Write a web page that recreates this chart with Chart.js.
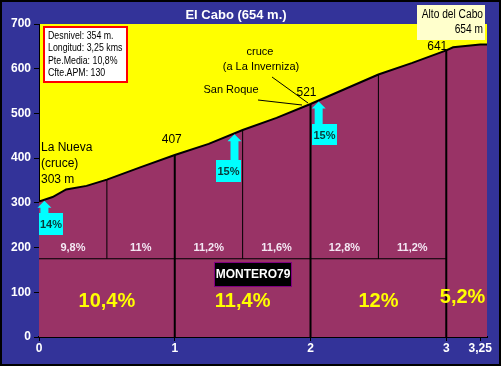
<!DOCTYPE html>
<html>
<head>
<meta charset="utf-8">
<script src="https://cdn.jsdelivr.net/npm/chart.js@4"></script>
<style>
html,body{margin:0;padding:0;background:#333399;}
#wrap{width:501px;height:366px;position:relative;}
</style>
</head>
<body>
<div id="wrap"><canvas id="c" width="501" height="366"></canvas></div>
<script>
// ---- data ----
const title = 'El Cabo (654 m.)';
const km   = [0, 0.1, 0.2, 0.35, 0.5, 0.75, 1, 1.25, 1.5, 1.75, 2, 2.25, 2.5, 2.75, 3, 3.05, 3.25, 3.3];
const elev = [303, 313, 330, 338, 352, 380, 407, 432, 463, 490, 521, 554, 587, 613, 641, 648, 654, 654];
const halfMarks = [0.5, 1.5, 2.5];
const kmMarks = [1, 2, 3];
const splitLevel = 175;
const halfGrades = ['9,8%', '11%', '11,2%', '11,6%', '12,8%', '11,2%'];
const halfCenters = [0.25, 0.75, 1.25, 1.75, 2.25, 2.75];
const kmGrades = ['10,4%', '11,4%', '12%', '5,2%'];
const kmCenters = [0.5, 1.5, 2.5, 3.12];
const xTicks = [0, 1, 2, 3, 3.25];
const xTickLabels = ['0', '1', '2', '3', '3,25'];
const maxGrades = ['14%', '15%', '15%'];
const maxGradeKm = [0.04, 1.44, 2.06];
const infoLines = ['Desnivel: 354 m.', 'Longitud: 3,25 kms', 'Pte.Media: 10,8%', 'Cfte.APM: 130'];

const elevAt = k => elev[km.indexOf(k)];

const datasets = [{
  data: km.map((k, i) => ({x: k, y: elev[i]})),
  borderColor: '#000', borderWidth: 2, backgroundColor: '#993366',
  fill: 'origin', pointRadius: 0, tension: 0, order: 10
}];
halfMarks.forEach(k => datasets.push({
  data: [{x: k, y: splitLevel}, {x: k, y: elevAt(k)}],
  borderColor: '#000', borderWidth: 1, pointRadius: 0, fill: false, order: 2
}));
kmMarks.forEach(k => datasets.push({
  data: [{x: k, y: 0}, {x: k, y: elevAt(k)}],
  borderColor: '#000', borderWidth: 2, pointRadius: 0, fill: false, order: 2
}));
datasets.push({
  data: [{x: 0, y: splitLevel}, {x: 3, y: splitLevel}],
  borderColor: '#000', borderWidth: 1, pointRadius: 0, fill: false, order: 2
});

const FONT = '"Liberation Sans", Arial, sans-serif';

const bgPlugin = {
  id: 'bg',
  beforeDraw(chart) {
    const ctx = chart.ctx, a = chart.chartArea;
    ctx.save();
    ctx.fillStyle = '#333399';
    ctx.fillRect(0, 0, chart.width, chart.height);
    ctx.fillStyle = '#ffff00';
    ctx.fillRect(a.left, a.top, a.right - a.left, a.bottom - a.top);
    ctx.restore();
  },
  afterDraw(chart) {
    const ctx = chart.ctx;
    ctx.save();
    ctx.strokeStyle = '#000'; ctx.lineWidth = 2;
    ctx.strokeRect(1, 1, chart.width - 2, chart.height - 2);
    ctx.restore();
  }
};

function arrow(ctx, x, tipY, baseY) {
  ctx.beginPath();
  ctx.moveTo(x, tipY);
  ctx.lineTo(x + 7, tipY + 7);
  ctx.lineTo(x + 4, tipY + 7);
  ctx.lineTo(x + 4, baseY);
  ctx.lineTo(x - 4, baseY);
  ctx.lineTo(x - 4, tipY + 7);
  ctx.lineTo(x - 7, tipY + 7);
  ctx.closePath();
  ctx.fill();
}

// draw text squeezed horizontally
function narrowText(ctx, text, x, y, sx, align) {
  ctx.save();
  ctx.translate(x, y);
  ctx.scale(sx, 1);
  ctx.textAlign = align;
  ctx.fillText(text, 0, 0);
  ctx.restore();
}

const annoPlugin = {
  id: 'anno',
  afterDatasetsDraw(chart) {
    const ctx = chart.ctx, X = chart.scales.x, Y = chart.scales.y, a = chart.chartArea;
    const px = v => X.getPixelForValue(v), py = v => Y.getPixelForValue(v);
    ctx.save();
    ctx.textBaseline = 'middle';

    // Title
    ctx.fillStyle = '#fff';
    ctx.font = 'bold 13px ' + FONT;
    ctx.textAlign = 'center';
    ctx.fillText(title, 236, 15);

    // small grade labels
    ctx.font = 'bold 11px ' + FONT;
    ctx.fillStyle = '#f4e8f4';
    halfGrades.forEach((g, i) => ctx.fillText(g, px(halfCenters[i]), py(200)));

    // big grade labels
    ctx.font = 'bold 20px ' + FONT;
    ctx.fillStyle = '#ffff00';
    kmGrades.forEach((g, i) => ctx.fillText(g, px(kmCenters[i]), py(i === 3 ? 89 : 79)));

    // elevation labels
    ctx.font = '12px ' + FONT;
    ctx.fillStyle = '#000';
    ctx.fillText(String(elevAt(1)), px(1) - 3, py(elevAt(1)) - 15);
    ctx.fillText(String(elevAt(2)), px(2) - 4, py(elevAt(2)) - 11);
    ctx.fillText(String(elevAt(3)), px(3) - 9, py(elevAt(3)) - 4);
    ctx.textAlign = 'left';
    ctx.fillText('La Nueva', a.left + 2, 148);
    ctx.fillText('(cruce)', a.left + 2, 164);
    ctx.fillText(elevAt(0) + ' m', a.left + 2, 180);

    ctx.font = '11px ' + FONT;
    ctx.textAlign = 'center';
    ctx.fillText('cruce', 260, 52);
    ctx.fillText('(a La Inverniza)', 261, 67);
    ctx.fillText('San Roque', 231, 90);
    ctx.strokeStyle = '#000'; ctx.lineWidth = 1;
    ctx.beginPath();
    ctx.moveTo(272, 77); ctx.lineTo(308, 103);
    ctx.moveTo(258, 100); ctx.lineTo(302, 105);
    ctx.stroke();

    // cyan arrows + boxes
    const boxes = [
      {bx: 39, by: 213, bw: 24, bh: 22, base: 213},
      {bx: 216, by: 160, bw: 25, bh: 22, base: 160},
      {bx: 312, by: 124, bw: 25, bh: 21, base: 124}
    ];
    maxGrades.forEach((g, i) => {
      const k = maxGradeKm[i];
      let j = 0; while (km[j + 1] < k) j++;
      const t = (k - km[j]) / (km[j + 1] - km[j]);
      const e = elev[j] + t * (elev[j + 1] - elev[j]);
      const x = px(k);
      const b = boxes[i];
      ctx.fillStyle = '#00ffff';
      arrow(ctx, x, py(e) + 1, b.base + 1);
      ctx.fillRect(b.bx, b.by, b.bw, b.bh);
      ctx.fillStyle = '#0a3a3a';
      ctx.font = 'bold 11px ' + FONT;
      ctx.textAlign = 'center';
      ctx.fillText(g, b.bx + b.bw / 2, b.by + b.bh / 2 + 1);
    });

    // info box
    ctx.fillStyle = '#fff';
    ctx.fillRect(43, 26, 85, 57);
    ctx.strokeStyle = '#ff0000'; ctx.lineWidth = 2;
    ctx.strokeRect(44, 27, 83, 55);
    ctx.fillStyle = '#000';
    ctx.font = '11px ' + FONT;
    infoLines.forEach((l, i) => narrowText(ctx, l, 48, 36 + i * 12.3, 0.8, 'left'));

    // Alto del Cabo box
    ctx.fillStyle = '#ffffcc';
    ctx.fillRect(417, 5, 68, 35);
    ctx.fillStyle = '#000';
    ctx.font = '12px ' + FONT;
    narrowText(ctx, 'Alto del Cabo', 483, 15, 0.85, 'right');
    narrowText(ctx, elevAt(3.25) + ' m', 483, 30, 0.85, 'right');

    // MONTERO79
    ctx.fillStyle = '#000';
    ctx.fillRect(214, 262, 78, 25);
    ctx.strokeStyle = '#800080'; ctx.lineWidth = 1;
    ctx.strokeRect(214.5, 262.5, 77, 24);
    ctx.fillStyle = '#fff';
    ctx.font = 'bold 12px ' + FONT;
    ctx.textAlign = 'center';
    ctx.fillText('MONTERO79', 253, 275);

    ctx.restore();
  }
};

new Chart(document.getElementById('c'), {
  type: 'line',
  data: {datasets},
  plugins: [bgPlugin, annoPlugin],
  options: {
    responsive: false,
    animation: false,
    events: [],
    layout: {padding: {left: 0, right: 14, top: 24, bottom: 0}},
    plugins: {legend: {display: false}, tooltip: {enabled: false}, title: {display: false}},
    scales: {
      x: {
        type: 'linear', min: 0, max: 3.3,
        afterBuildTicks: s => { s.ticks = xTicks.map(v => ({value: v})); },
        afterFit: s => { s.height = 29; },
        ticks: {
          color: '#fff', font: {family: FONT, size: 12, weight: 'bold'},
          maxRotation: 0, autoSkip: false, padding: 0,
          callback: (v) => xTickLabels[xTicks.indexOf(v)]
        },
        grid: {drawOnChartArea: false, color: '#000', tickLength: 4},
        border: {color: '#000', width: 2}
      },
      y: {
        min: 0, max: 700,
        afterFit: s => { s.width = 39; },
        ticks: {
          stepSize: 100, color: '#fff', padding: 3,
          font: {family: FONT, size: 12, weight: 'bold'}
        },
        grid: {drawOnChartArea: false, color: '#000', tickLength: 5},
        border: {color: '#000', width: 1}
      }
    }
  }
});
</script>
</body>
</html>
